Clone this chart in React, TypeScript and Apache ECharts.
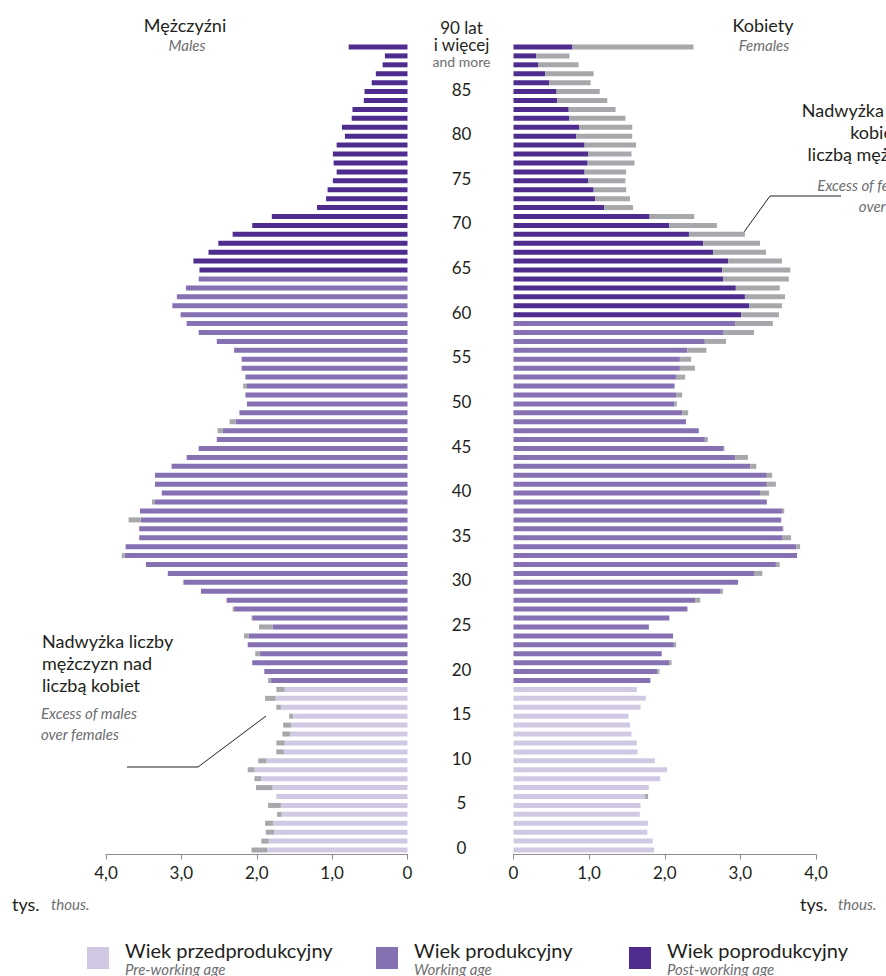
import React, { useEffect, useRef } from 'react';
import * as echarts from 'echarts';

// Age categories (bottom to top)
const ageLabels = [
  '0','1','2','3','4','5','6','7','8','9',
  '10','11','12','13','14','15','16','17','18','19',
  '20','21','22','23','24','25','26','27','28','29',
  '30','31','32','33','34','35','36','37','38','39',
  '40','41','42','43','44','45','46','47','48','49',
  '50','51','52','53','54','55','56','57','58','59',
  '60','61','62','63','64','65','66','67','68','69',
  '70','71','72','73','74','75','76','77','78','79',
  '80','81','82','83','84','85','86','87','88','89',
  '90+',
];

// Males, thousands, by age 0..90+
const males = [
  2.07, 1.94, 1.88, 1.89, 1.73, 1.85, 1.74, 2.01, 2.03, 2.12,
  1.98, 1.74, 1.74, 1.66, 1.65, 1.57, 1.74, 1.89, 1.74, 1.85,
  1.90, 2.06, 2.02, 2.12, 2.17, 1.97, 2.07, 2.32, 2.40, 2.74,
  2.98, 3.18, 3.47, 3.79, 3.74, 3.56, 3.56, 3.70, 3.55, 3.39,
  3.26, 3.35, 3.35, 3.13, 2.93, 2.77, 2.53, 2.52, 2.36, 2.23,
  2.13, 2.15, 2.18, 2.15, 2.20, 2.20, 2.30, 2.53, 2.77, 2.93,
  3.01, 3.12, 3.06, 2.94, 2.77, 2.76, 2.84, 2.64, 2.51, 2.32,
  2.06, 1.80, 1.20, 1.08, 1.06, 0.99, 0.94, 0.98, 0.99, 0.94,
  0.83, 0.87, 0.74, 0.73, 0.58, 0.57, 0.475, 0.42, 0.33, 0.30,
  0.78,
];

// Females, thousands, by age 0..90+
const females = [
  1.86, 1.84, 1.77, 1.78, 1.67, 1.68, 1.78, 1.79, 1.94, 2.03,
  1.87, 1.64, 1.63, 1.56, 1.54, 1.52, 1.68, 1.75, 1.63, 1.81,
  1.93, 2.09, 1.96, 2.15, 2.11, 1.79, 2.06, 2.30, 2.47, 2.77,
  2.97, 3.29, 3.52, 3.75, 3.79, 3.67, 3.57, 3.54, 3.58, 3.35,
  3.38, 3.47, 3.42, 3.21, 3.10, 2.79, 2.57, 2.45, 2.28, 2.31,
  2.16, 2.23, 2.13, 2.27, 2.40, 2.35, 2.55, 2.81, 3.18, 3.43,
  3.51, 3.55, 3.59, 3.52, 3.64, 3.66, 3.55, 3.34, 3.26, 3.06,
  2.69, 2.39, 1.58, 1.54, 1.49, 1.48, 1.49, 1.60, 1.56, 1.62,
  1.57, 1.57, 1.48, 1.35, 1.24, 1.14, 1.02, 1.06, 0.86, 0.74,
  2.38,
];

// Economic age group boundaries (last index of each group)
const PRE_LAST = 18;
const MALE_WORK_LAST = 64;
const FEMALE_WORK_LAST = 59;

const groupNames = ['Wiek przedprodukcyjny', 'Wiek produkcyjny', 'Wiek poprodukcyjny'];
const groupNamesEn = ['Pre-working age', 'Working age', 'Post-working age'];

const C_PRE = '#d1c9e3';
const C_WORK = '#8671b3';
const C_POST = '#4f2d8e';
const C_EXCESS = '#a7a8ab';
const DARK = '#231f20';
const GREY = '#6d6e71';
const AXIS = '#8c8c8c';
const FONT = 'Lato, "Noto Sans", sans-serif';

function buildSide(own: number[], other: number[], workLast: number, idx: number, stack: string) {
  const base = own.map((v, i) => Math.min(v, other[i]));
  const pre = base.map((v, i) => (i <= PRE_LAST ? v : '-'));
  const work = base.map((v, i) => (i > PRE_LAST && i <= workLast ? v : '-'));
  const post = base.map((v, i) => (i > workLast ? v : '-'));
  const excess = own.map((v, i) => (v > other[i] ? +(v - other[i]).toFixed(3) : '-'));
  const common = {
    type: 'bar',
    stack,
    xAxisIndex: idx,
    yAxisIndex: idx,
    barWidth: 5,
    silent: true,
  };
  return [
    { ...common, name: groupNames[0], data: pre, itemStyle: { color: C_PRE } },
    { ...common, name: groupNames[1], data: work, itemStyle: { color: C_WORK } },
    { ...common, name: groupNames[2], data: post, itemStyle: { color: C_POST } },
    { ...common, name: 'excess', data: excess, itemStyle: { color: C_EXCESS } },
  ];
}

const tickFormatter = (v: number) => (v === 0 ? '0' : v.toFixed(1).replace('.', ','));

function valueAxis(gridIndex: number, inverse: boolean) {
  return {
    gridIndex,
    type: 'value',
    min: 0,
    max: 4,
    interval: 1,
    inverse,
    axisLine: { show: true, lineStyle: { color: AXIS, width: 1 } },
    axisTick: { show: true, length: 5, lineStyle: { color: AXIS, width: 1 } },
    splitLine: { show: false },
    axisLabel: {
      formatter: tickFormatter,
      fontSize: 17,
      color: DARK,
      fontFamily: FONT,
      margin: 9,
    },
  };
}

function txt(text: string, x: number, y: number, size: number, color: string, align: string, italic = false, lineHeight?: number) {
  return {
    type: 'text',
    x,
    y,
    silent: true,
    style: {
      text,
      fill: color,
      fontSize: size,
      fontFamily: FONT,
      fontStyle: italic ? 'italic' : 'normal',
      align,
      verticalAlign: 'middle',
      lineHeight: lineHeight || size * 1.2,
    },
  };
}

export default function App() {
  const ref = useRef<HTMLDivElement>(null);

  useEffect(() => {
    document.body.style.margin = '0';
    document.body.style.overflow = 'hidden';
    const chart = echarts.init(ref.current as HTMLDivElement, null, { renderer: 'svg' });

    const legendX = [87, 376, 629];
    const legendColors = [C_PRE, C_WORK, C_POST];
    const legendGraphics: any[] = [];
    legendX.forEach((x, i) => {
      legendGraphics.push({
        type: 'rect',
        silent: true,
        shape: { x, y: 947, width: 22, height: 22 },
        style: { fill: legendColors[i] },
      });
      legendGraphics.push(txt(groupNames[i], x + 38, 950, 20, DARK, 'left', false, 20));
      legendGraphics.push(txt(groupNamesEn[i], x + 38, 969, 15, GREY, 'left', true, 15));
    });

    const option: any = {
      animation: false,
      backgroundColor: '#ffffff',
      grid: [
        { left: 106, width: 301.5, top: 42.5, height: 812 },
        { left: 513.5, width: 302.5, top: 42.5, height: 812 },
      ],
      xAxis: [valueAxis(0, true), valueAxis(1, false)],
      yAxis: [
        {
          gridIndex: 0,
          type: 'category',
          data: ageLabels,
          position: 'right',
          axisLine: { show: false },
          axisTick: { show: false },
          splitLine: { show: false },
          axisLabel: {
            interval: (index: number) => index % 5 === 0,
            align: 'center',
            margin: 54,
            fontSize: 17,
            color: DARK,
            fontFamily: FONT,
            padding: [0, 0, 5, 0],
            formatter: (v: string) =>
              v === '90+' ? '{a|90 lat}\n{a|i więcej}\n{b|and more}' : v,
            rich: {
              a: { fontSize: 17, lineHeight: 17, color: DARK, fontFamily: FONT, align: 'center' },
              b: { fontSize: 14, lineHeight: 17, color: GREY, fontFamily: FONT, align: 'center' },
            },
          },
        },
        {
          gridIndex: 1,
          type: 'category',
          data: ageLabels,
          axisLine: { show: false },
          axisTick: { show: false },
          splitLine: { show: false },
          axisLabel: { show: false },
        },
      ],
      series: [
        ...buildSide(males, females, MALE_WORK_LAST, 0, 'm'),
        ...buildSide(females, males, FEMALE_WORK_LAST, 1, 'f'),
      ],
      graphic: [
        txt('Mężczyźni', 185, 25, 18, DARK, 'center'),
        txt('Males', 187, 45, 15, GREY, 'center', true),
        txt('Kobiety', 763, 25, 18, DARK, 'center'),
        txt('Females', 764, 45, 15, GREY, 'center', true),
        {
          type: 'text',
          x: 42,
          y: 630,
          silent: true,
          style: {
            text: 'Nadwyżka liczby\nmężczyzn nad\nliczbą kobiet',
            fill: DARK,
            fontSize: 18,
            fontFamily: FONT,
            lineHeight: 22,
            align: 'left',
            verticalAlign: 'top',
          },
        },
        {
          type: 'text',
          x: 41,
          y: 702,
          silent: true,
          style: {
            text: 'Excess of males\nover females',
            fill: GREY,
            fontSize: 15,
            fontFamily: FONT,
            fontStyle: 'italic',
            lineHeight: 21,
            align: 'left',
            verticalAlign: 'top',
          },
        },
        {
          type: 'text',
          x: 933,
          y: 99,
          silent: true,
          style: {
            text: 'Nadwyżka liczby\nkobiet nad\nliczbą mężczyzn',
            fill: DARK,
            fontSize: 18,
            fontFamily: FONT,
            lineHeight: 22,
            align: 'right',
            verticalAlign: 'top',
          },
        },
        {
          type: 'text',
          x: 925,
          y: 174,
          silent: true,
          style: {
            text: 'Excess of females\nover males',
            fill: GREY,
            fontSize: 15,
            fontFamily: FONT,
            fontStyle: 'italic',
            lineHeight: 21,
            align: 'right',
            verticalAlign: 'top',
          },
        },
        {
          type: 'polyline',
          silent: true,
          shape: { points: [[127, 767], [198, 767], [266, 716]] },
          style: { stroke: DARK, lineWidth: 1, fill: 'none' },
        },
        {
          type: 'polyline',
          silent: true,
          shape: { points: [[744, 232], [770, 196], [841, 196]] },
          style: { stroke: DARK, lineWidth: 1, fill: 'none' },
        },
        txt('tys.', 12, 904, 18, DARK, 'left'),
        txt('thous.', 51, 904, 15, GREY, 'left', true),
        txt('tys.', 800, 904, 18, DARK, 'left'),
        txt('thous.', 838, 904, 15, GREY, 'left', true),
        ...legendGraphics,
      ],
    };

    chart.setOption(option);
    return () => chart.dispose();
  }, []);

  return (
    <div
      ref={ref}
      style={{ position: 'absolute', left: 0, top: 0, width: 886, height: 976, background: '#fff' }}
    />
  );
}
